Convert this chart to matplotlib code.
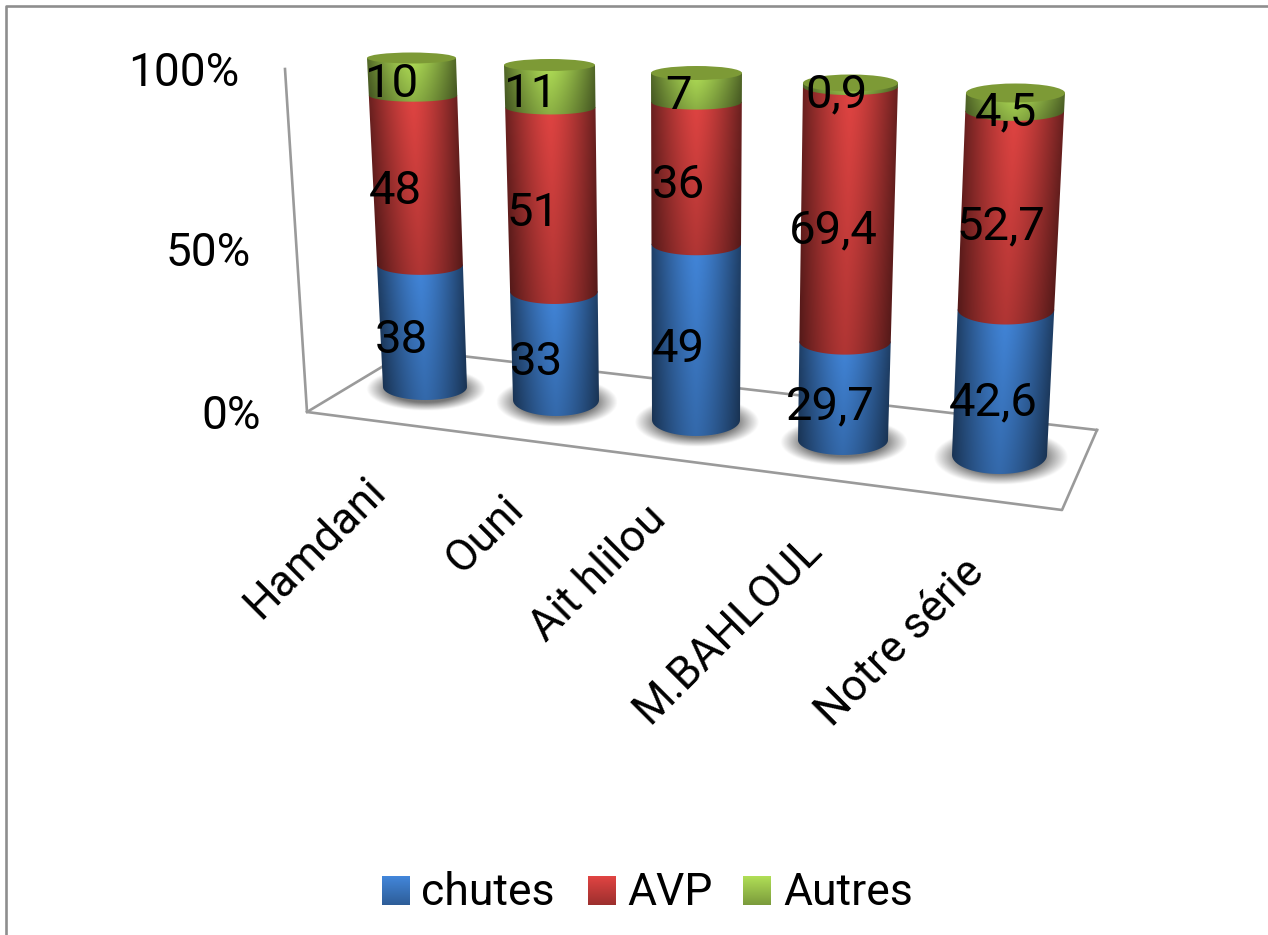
import numpy as np
from matplotlib import pyplot as plt
from matplotlib.path import Path
from matplotlib.patches import PathPatch, Ellipse

categories = ['Hamdani', 'Ouni', 'Ait hlilou', 'M.BAHLOUL', 'Notre série']
chutes = [38, 33, 49, 29.7, 42.6]
avp = [48, 51, 36, 69.4, 52.7]
autres = [10, 11, 7, 0.9, 4.5]
series_names = ['chutes', 'AVP', 'Autres']
y_ticks = [100, 50, 0]

# cylinder projection, one entry per bar, in canvas pixels
top_x = [411.5, 549.5, 696.5, 850.5, 1015.5]
top_y = [58, 65, 73, 83, 93]
top_hw = [44.5, 45.5, 45.5, 47.5, 49.5]
top_ry = [5.5, 6, 7, 8.5, 9.5]
base_x = [425, 556, 696, 843, 999.5]
base_y = [387, 400, 420, 440, 455]
base_hw = [42, 43, 44, 45, 47.5]
base_ry = [13, 16, 16, 15, 19]
label_dx = [-21, -19, -18, -14, -9]

colors = [(66, 134, 218), (224, 68, 66), (176, 222, 86)]
lid_color = (125, 154, 54)
grey = '#9a9a9a'
W, H = 1268, 935
font = 'Roboto'


def warp(v):
    # foreshortening of the 3D view
    return v - 0.1 * v * (1 - v)


def shaded(ax, col, clip, x0, x1, y0, y1, cx, hw):
    xs = np.arange(int(x0) - 2, int(x1) + 3)
    ys = np.arange(int(y0) - 2, int(y1) + 3)
    X, Y = np.meshgrid(xs, ys)
    u = np.clip((X - cx(Y)) / hw(Y), -1, 1)
    t = (Y - ys[0]) / max(ys[-1] - ys[0], 1)
    shade = (1 - 0.52 * np.abs(u) ** 1.4) * (1 - 0.22 * t)
    img = np.clip(np.dstack([shade * c / 255 for c in col]), 0, 1)
    im = ax.imshow(img, extent=(xs[0], xs[-1], ys[-1], ys[0]), aspect='auto',
                   interpolation='bilinear', zorder=3)
    im.set_clip_path(clip)


def draw_bar(ax, i, values):
    y_at = lambda f: base_y[i] + (top_y[i] - base_y[i]) * f
    def cx(y):
        f = (base_y[i] - y) / (base_y[i] - top_y[i])
        return base_x[i] + (top_x[i] - base_x[i]) * f
    def hw(y):
        f = (base_y[i] - y) / (base_y[i] - top_y[i])
        return base_hw[i] + (top_hw[i] - base_hw[i]) * f
    def ry(y):
        f = (base_y[i] - y) / (base_y[i] - top_y[i])
        return base_ry[i] + (top_ry[i] - base_ry[i]) * f

    # soft shadow on the floor
    sx = np.arange(base_x[i] - 90, base_x[i] + 90)
    sy = np.arange(base_y[i] - 40, base_y[i] + 45)
    X, Y = np.meshgrid(sx, sy)
    r = np.hypot((X - base_x[i] - 1) / (base_hw[i] * 1.42),
                 (Y - base_y[i] - 2) / (base_ry[i] + 9))
    alpha = np.clip((1.0 - r) / 0.38, 0, 1) * 0.8
    rgba = np.dstack([np.full_like(alpha, 0.33)] * 3 + [alpha])
    ax.imshow(rgba, extent=(sx[0], sx[-1], sy[-1], sy[0]), aspect='auto',
              interpolation='bilinear', zorder=2)

    total = sum(values)
    acc = 0
    theta = np.linspace(np.pi, 0, 40)
    for val, col in zip(values, colors):
        lo = y_at(warp(acc / total))
        acc += val
        hi = y_at(warp(acc / total))
        px = cx(lo) + hw(lo) * np.cos(theta)
        py = lo + ry(lo) * np.sin(theta)
        pts = list(zip(px, py)) + [(cx(hi) + hw(hi), hi), (cx(hi) - hw(hi), hi)]
        patch = PathPatch(Path(pts + [pts[0]]), fc='none', ec='none', zorder=3)
        ax.add_patch(patch)
        shaded(ax, col, patch, min(p[0] for p in pts), max(p[0] for p in pts),
               hi, lo + ry(lo), cx, hw)

    ax.add_patch(Ellipse((top_x[i], top_y[i]), 2 * top_hw[i], 2 * top_ry[i],
                         fc=np.array(lid_color) / 255, ec='none', zorder=4))

    # value labels sit at the front of each segment, shifted left
    acc = 0
    for val in values:
        mid = y_at(warp((acc + val / 2) / total))
        acc += val
        ym = mid + ry(mid)
        ax.text(cx(mid) + label_dx[i], ym + 14, f'{val:g}'.replace('.', ','),
                ha='center', va='baseline', fontsize=34, family=font,
                color='black', zorder=6)


fig = plt.figure(figsize=(W / 100, H / 100), dpi=100)
ax = fig.add_axes([0, 0, 1, 1])

# outer frame, only its top and left edges fall on the canvas
ax.plot([6, 6, W], [H, 5.5, 5.5], color='#8e8e8e', lw=1.9, zorder=1)

# walls and floor
corner = (307, 412)
axis_top = (285, 69)
ax.plot([axis_top[0], corner[0], 1062, 1097], [axis_top[1], corner[1], 510, 430],
        color=grey, lw=1.9, zorder=1)
ax.plot([corner[0], 410, 1097], [corner[1], 350, 430], color=grey, lw=1.9, zorder=1)

for t in y_ticks:
    f = warp(t / 100)
    ax.text(corner[0] + (axis_top[0] - corner[0]) * f - 46,
            corner[1] + (axis_top[1] - corner[1]) * f + 17,
            f'{t}%', ha='right', va='baseline', fontsize=33, family=font, color='black')

for i in range(len(categories)):
    draw_bar(ax, i, [chutes[i], avp[i], autres[i]])

label_xy = [(315, 548), (485, 534), (598, 574), (728, 630), (900, 643)]
for name, (lx, ly) in zip(categories, label_xy):
    ax.text(lx, ly, name, rotation=45, ha='center', va='center', fontsize=32,
            family=font, color='black')

# legend
swatch_x = [382, 588, 743]
text_x = [421, 627, 783]
for name, col, sx, tx in zip(series_names, colors, swatch_x, text_x):
    grad = np.linspace(1.0, 0.7, 29)[:, None, None] * np.array(col)[None, None, :] / 255
    ax.imshow(grad, extent=(sx, sx + 28, 905, 876), aspect='auto', zorder=3)
    ax.text(tx, 905, name, ha='left', va='baseline', fontsize=32, family=font, color='black')

ax.set_xlim(0, W)
ax.set_ylim(H, 0)
ax.axis('off')
fig.savefig('out.png', dpi=100, facecolor='white')
